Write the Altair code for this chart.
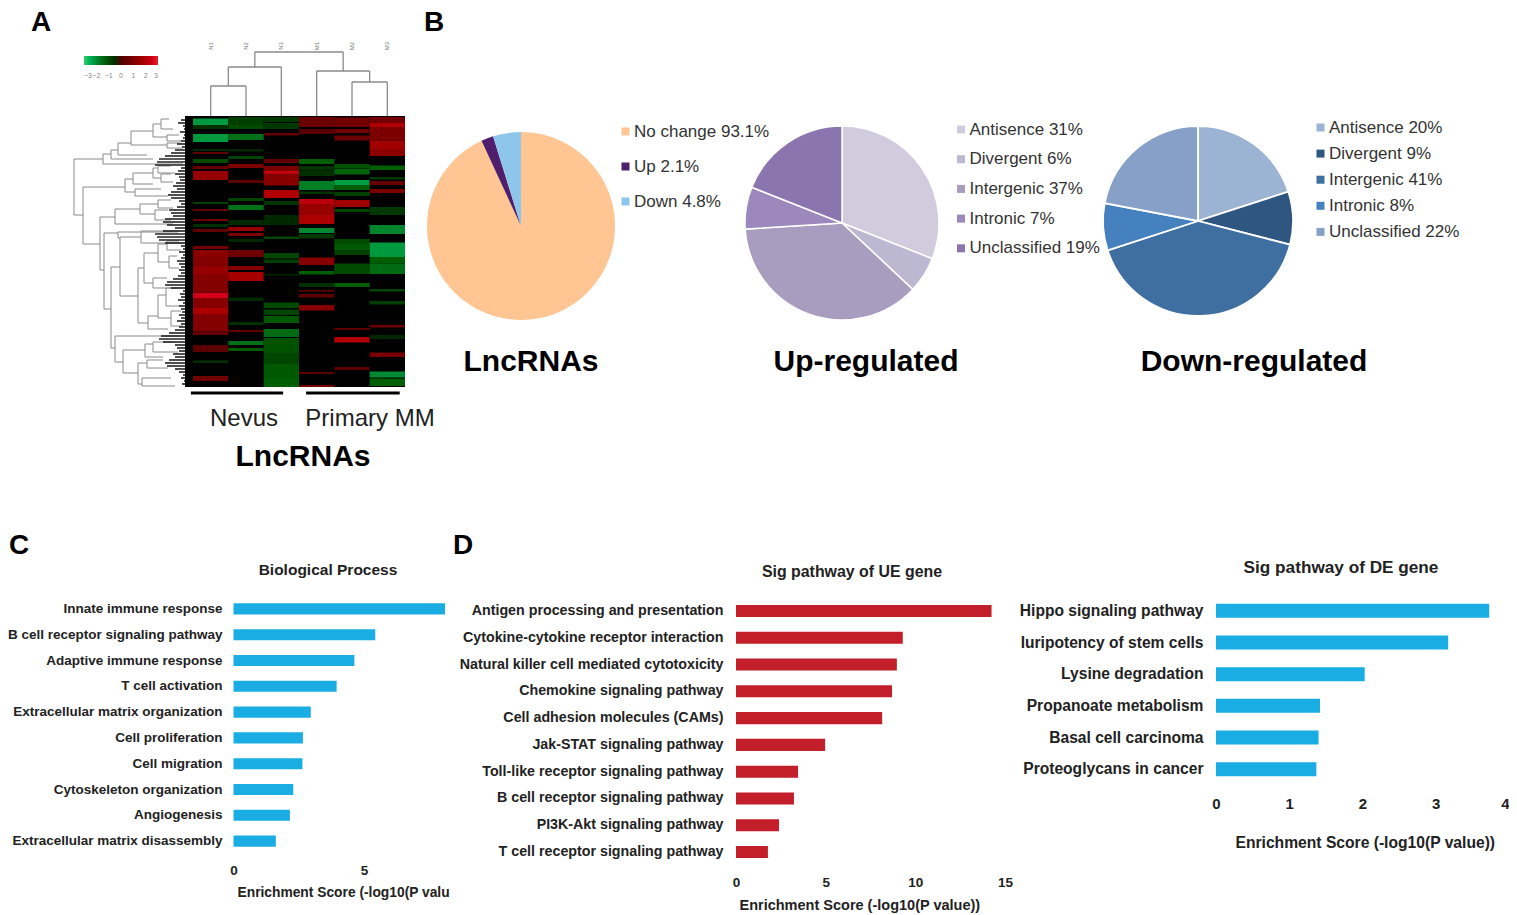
import altair as alt
import pandas as pd

FONT = "Liberation Sans"
INK = "#222222"

# ---------- Panel A: heat map, segments per sample (row start, row end, value)
col1 = [(2.5,9,-2.2),(9,13,-.5),(18,26,-2.2),(33,35,-.4),(36,38,.4),(43,47,-1),(50,53,.5),(55,64,1.5),(86,88,-.8),(93,95,.5),(103,105,.8),(108,111,-.5),(113,116,.4),(130,133,.8),
        (134,141,1.3),(141,151,1.1),(151,158,1.5),(158,165,1.2),(165,176,1.1),(176.5,182,2.6),(182,192,1.2),(192,198,1.9),(198,215.5,1.1),(215.5,219,.5),(229,236,.3),(244.5,247,-.5),(260,265,.7)]
col2 = [(1,9,-.8),(9,13,-1),(18,24,-1.6),(33,35.5,-.3),(40,43,-.9),(48,52,1),(64,67,.3),(82,85,-.9),(89,94,-1.6),(104,109,-.4),(111,115,1.5),(117,120,1),(123,126,-.3),
        (134,141,.7),(150,154,1.2),(156,165,1.8),(181.5,185,-.4),(206,209,-.5),(214,216,.4),(225,229,-1.6),(232,235,-1.3)]
col3 = [(1,6,-.7),(7,13,-.7),(17,19.5,.5),(43,47,.4),(50,54.5,1),(54.5,58.5,2.3),(58.5,69.5,1.2),(74,82,2),(85,89,-.6),(99,109,-.3),(120.5,123,-.9),
        (137,142.5,-.9),(143.5,147,-.8),(158,159.5,-.3),(186.5,192,-1),(193.5,199,-.9),(200,207,-1.2),(213,221,-1.5),(222,237,-1.1),(237,248,-.9),(248,262,-1.2),(262,271,-1.3)]
col4 = [(1,11,.6),(13,18,.2),(43,48,-1.3),(50,54.5,-.6),(55,60,-.5),(65,74,-1.8),(75.5,78,-.6),(83,88,2.2),(88,99,1.5),(99,108,1.9),(112,117,-2),(118,122.5,-.7),
        (141.5,149,1.2),(155,158.5,-1.3),(167,171,-.5),(174,175.5,.6),(178,181.5,.4),(189,194.5,1.2),(256,258,.3),(269,271,.8)]
col5 = [(1.5,11,.8),(13,17,.8),(19.5,24.5,.6),(48,52,-1.1),(52.5,58.5,-1.4),(64,69.5,-2.3),(69.5,74,-1.3),(76,80,-.8),(84,91,1.7),(93,96,-.9),(123,128,-1),(128,134,-1.2),
        (134,139,-.8),(147.5,158,-1),(167,171,-1.3),(212,214,.4),(221,226.5,2),(251,254,.3)]
col6 = [(1,7,.8),(7,11,2),(11,24.5,1),(24.5,33,1.7),(33,40,1.3),(49.5,54,-1.3),(61,63.5,-.7),(65,69,.5),(73,77,1),(91,99,-.7),(109,118,-1.9),(126.5,134,-2.2),
        (134,141,-2.2),(141,147.5,-1.3),(147.5,158,-1.5),(173,175.5,-.9),(185,188.5,-.8),(209,211.5,.7),(219,223,-.3),(236.5,241,.9),(255.5,261.5,-2),(262.5,270,-1.3)]
heat_columns = [col1, col2, col3, col4, col5, col6]
heat_ticks = [-3, -2, -1, 0, 1, 2, 3]
sample_names = ["N1", "N2", "N3", "M1", "M2", "M3"]

# top dendrogram: (left leaf, right leaf, height, left child height, right child height)
top_tree = [(0.5,1.5,30,0,0),(1,2.5,49,30,0),(4.5,5.5,34,0,0),(3.5,5,45,0,34),(1.75,4.25,64,49,45)]

# left dendrogram: (depth, row top, row bottom, depth top child, depth bottom child)
left_tree = [(119,43,99,90,110),(90,38,48,82,10),(82,34,43,75,40),(75,27,39,62,46),(62,15,29,40,26),(40,8,21,32,26),(32,3,13,24,20),
             (26,19,25,14,12),(26,27,32,12,10),(110,71,128,68,93),(68,63,76,60,58),(60,57,68,40,40),(40,52,62,36,32),(35,50,57,22,18),
             (32,58,66,22,20),(58,73,80,32,25),(93,101,154,78,89),(78,93,108,53,20),(53,88,98,35,38),(38,94,104,25,22),(35,84,92,22,20),
             (89,117,193,75,82),(75,116,122,15,73),(82,151,232,73,78),(73,121,180,52,55),(52,115,127,12,8),(55,152,207,49,45),(49,137,167,35,40),
             (35,128,146,26,24),(26,125,134,14,12),(24,140,152,16,14),(40,162,172,26,12),(45,200,213,35,25),(35,179,202,27,22),(27,172,190,18,14),
             (22,195,210,12,10),(78,220,246,12,70),(70,234,257,48,55),(48,228,241,40,30),(40,226,236,20,15),(55,247,268,46,51),(46,244,252,30,25),(51,262,270,22,18)]
# depth of the dense leaf fringe, one value per three rows
fringe = [8,12,15,10,9,13,9,10,12,16,11,18,22,28,34,36,38,12,15,18,14,13,17,20,16,22,25,22,14,12,16,24,22,20,28,30,26,18,30,38,36,34,28,12,10,
          14,10,12,16,14,12,14,12,15,20,26,28,22,10,13,12,15,10,14,12,11,14,12,16,12,14,18,24,32,34,30,18,16,14,20,18,24,28,26,18,14,10,12,9,11]

group_bars = [(-0.06, 2.55), (3.2, 5.85)]

# ---------- Panel B: pies
pie1_names = ["No change 93.1%", "Up 2.1%", "Down 4.8%"]
pie1_values = [93.1, 2.1, 4.8]
pie1_colors = ["#FFC593", "#4F1F6E", "#8DC5EB"]
pie2_names = ["Antisence 31%", "Divergent 6%", "Intergenic 37%", "Intronic 7%", "Unclassified 19%"]
pie2_values = [31, 6, 37, 7, 19]
pie2_colors = ["#D0CCDE", "#BDB8D2", "#A89CBF", "#9C88BC", "#8B75AF"]
pie3_names = ["Antisence 20%", "Divergent 9%", "Intergenic 41%", "Intronic 8%", "Unclassified 22%"]
pie3_values = [20, 9, 41, 8, 22]
pie3_colors = ["#9DB3D4", "#2F5680", "#3F6EA0", "#4681BF", "#87A0C8"]

# ---------- Panels C, D: bars
bp_names = ["Innate immune response", "B cell receptor signaling pathway", "Adaptive immune response", "T cell activation",
            "Extracellular matrix organization", "Cell proliferation", "Cell migration", "Cytoskeleton organization",
            "Angiogenesis", "Extracellular matrix disassembly"]
bp_values = [8.1, 5.43, 4.63, 3.95, 2.96, 2.66, 2.64, 2.29, 2.16, 1.62]
ue_names = ["Antigen processing and presentation", "Cytokine-cytokine receptor interaction", "Natural killer cell mediated cytotoxicity",
            "Chemokine signaling pathway", "Cell adhesion molecules (CAMs)", "Jak-STAT signaling pathway", "Toll-like receptor signaling pathway",
            "B cell receptor signaling pathway", "PI3K-Akt signaling pathway", "T cell receptor signaling pathway"]
ue_values = [14.25, 9.3, 8.97, 8.7, 8.15, 4.97, 3.46, 3.23, 2.4, 1.78]
de_names = ["Hippo signaling pathway", "luripotency of stem cells", "Lysine degradation", "Propanoate metabolism", "Basal cell carcinoma", "Proteoglycans in cancer"]
de_values = [3.73, 3.17, 2.03, 1.42, 1.40, 1.37]

W, H = 1501, 906


def px(v):
    return v - 8


def note(text, x, y, size, weight="normal", color="#111111", align="center", angle=0):
    return alt.Chart(alt.Data(values=[{"t": text}])).mark_text(
        font=FONT, fontSize=size, fontWeight=weight, color=color, align=align, baseline="middle", angle=angle
    ).encode(text="t:N", x=alt.value(px(x)), y=alt.value(px(y)))


col_x = lambda f, f2=None: alt.X(f, scale=alt.Scale(domain=[0, 6], range=[px(193), px(405)], nice=False), axis=None)
row_y = lambda f: alt.Y(f, scale=alt.Scale(domain=[0, 271], range=[px(116), px(387)], nice=False), axis=None)
depth_x = lambda f: alt.X(f, scale=alt.Scale(domain=[0, 120], range=[px(193), px(73)], nice=False), axis=None)
height_y = lambda f: alt.Y(f, scale=alt.Scale(domain=[0, 64], range=[px(116), px(52)], nice=False), axis=None)

heat_rows = [{"c0": i, "c1": i + 1, "r0": a, "r1": b, "v": v}
             for i, segs in enumerate(heat_columns) for a, b, v in segs]

heat_bg = alt.Chart(alt.Data(values=[{"c0": 0, "c1": 6, "r0": 0, "r1": 271}])).mark_rect(color="#000000").encode(
    x=col_x("c0:Q"), x2="c1:Q", y=row_y("r0:Q"), y2="r1:Q")
heat = alt.Chart(alt.Data(values=heat_rows)).mark_rect().encode(
    x=col_x("c0:Q"), x2="c1:Q", y=row_y("r0:Q"), y2="r1:Q",
    color=alt.Color("v:Q", scale=alt.Scale(domain=[-3, 0, 3], range=["#30D070", "#000000", "#E82028"]),
                    legend=alt.Legend(orient="none", legendX=px(84), legendY=px(56), direction="horizontal", title=None,
                                      gradientLength=74, gradientThickness=9, values=heat_ticks, labelFontSize=7,
                                      labelColor="#888888", labelFont=FONT, tickCount=7, labelOffset=7)))

top_v, top_h = [], []
for a, b, h, ha, hb in top_tree:
    top_h.append({"a": a, "b": b, "h": h})
    top_v.append({"x": a, "h0": ha, "h1": h})
    top_v.append({"x": b, "h0": hb, "h1": h})
top_lines = alt.layer(
    alt.Chart(alt.Data(values=top_h)).mark_rule(color="#8a8a8a", strokeWidth=1.3).encode(
        x=col_x("a:Q"), x2="b:Q", y=height_y("h:Q")),
    alt.Chart(alt.Data(values=top_v)).mark_rule(color="#8a8a8a", strokeWidth=1.3).encode(
        x=col_x("x:Q"), y=height_y("h0:Q"), y2="h1:Q"),
)

left_v, left_h = [], []
for d, r0, r1, dt, db in left_tree:
    left_v.append({"d": d, "r0": r0, "r1": r1})
    left_h.append({"r": r0, "d0": d, "d1": dt})
    left_h.append({"r": r1, "d0": d, "d1": db})
left_lines = alt.layer(
    alt.Chart(alt.Data(values=left_v)).mark_rule(color="#8a8a8a", strokeWidth=1).encode(
        x=depth_x("d:Q"), y=row_y("r0:Q"), y2="r1:Q"),
    alt.Chart(alt.Data(values=left_h)).mark_rule(color="#8a8a8a", strokeWidth=1).encode(
        y=row_y("r:Q"), x=depth_x("d0:Q"), x2="d1:Q"),
)
fringe_rows = [{"r": 3 * i + 1, "d": d, "z": 0} for i, d in enumerate(fringe)]
fringe_lines = alt.Chart(alt.Data(values=fringe_rows)).mark_rule(color="#222222", strokeWidth=1.6).encode(
    y=row_y("r:Q"), x=depth_x("d:Q"), x2="z:Q")
fringe_band = alt.Chart(alt.Data(values=[{"d0": 0, "d1": 8, "r0": 0, "r1": 271}])).mark_rect(color="#000000").encode(
    x=depth_x("d0:Q"), x2="d1:Q", y=row_y("r0:Q"), y2="r1:Q")

group_lines = alt.Chart(alt.Data(values=[{"a": a, "b": b} for a, b in group_bars])).mark_rule(color="#000000", strokeWidth=3).encode(
    x=col_x("a:Q"), x2="b:Q", y=alt.value(px(393)))
sample_labels = alt.Chart(alt.Data(values=[{"x": i + 0.5, "t": t} for i, t in enumerate(sample_names)])).mark_text(
    font=FONT, fontSize=6, color="#777777", angle=270).encode(x=col_x("x:Q"), text="t:N", y=alt.value(px(46)))


def pie(names, values, colors, cx, cy, r, stroke, lx, ly, fsize, rowpad, sym):
    data = [{"n": n, "v": v, "i": i} for i, (n, v) in enumerate(zip(names, values))]
    return alt.Chart(alt.Data(values=data)).mark_arc(outerRadius=r, stroke="white", strokeWidth=stroke).encode(
        theta=alt.Theta("v:Q", stack=True),
        order=alt.Order("i:Q"),
        x=alt.value(px(cx)), y=alt.value(px(cy)),
        color=alt.Color("n:N", sort=None, scale=alt.Scale(domain=names, range=colors),
                        legend=alt.Legend(orient="none", legendX=px(lx), legendY=px(ly), title=None, symbolType="square",
                                          symbolSize=sym, labelFont=FONT, labelFontSize=fsize, labelColor="#333333",
                                          rowPadding=rowpad, labelOffset=0, labelLimit=300, symbolStrokeWidth=0,
                                          padding=0)),
    )


def bars(names, values, color, domain, x0, x1, y0, y1, inner, ticks, lsize, tsize, tick_y, label_right,
         title, title_size, title_x, title_y, title_align="center", last_right=None):
    data = [{"n": n, "v": v} for n, v in zip(names, values)]
    align = "center"
    if last_right is not None:
        align = {"condition": {"test": f"datum.value === {last_right}", "value": "right"}, "value": "center"}
    return alt.Chart(alt.Data(values=data)).mark_bar(color=color).encode(
        x=alt.X("v:Q", scale=alt.Scale(domain=[0, domain], range=[px(x0), px(x1)], nice=False),
                axis=alt.Axis(orient="bottom", offset=-(H - px(tick_y)), values=ticks, format="d", ticks=False, domain=False, grid=False,
                              labelFont=FONT, labelFontWeight="bold", labelFontSize=tsize, labelColor=INK, labelPadding=0,
                              labelBaseline="middle", labelAlign=align, labelFlush=False, labelOverlap=False, title=title, titleFont=FONT, titleFontWeight="bold",
                              titleFontSize=title_size, titleColor=INK, titleX=px(title_x), titleY=title_y - tick_y,
                              titleAlign=title_align, titleBaseline="middle", titleAnchor="start")),
        y=alt.Y("n:N", sort=None, scale=alt.Scale(domain=names, range=[px(y0), px(y1)], paddingInner=inner, paddingOuter=inner / 2),
                axis=alt.Axis(orient="left", offset=-(px(label_right)), title=None, ticks=False, domain=False, grid=False,
                              labelFont=FONT, labelFontWeight="bold", labelFontSize=lsize, labelColor=INK, labelPadding=0, labelLimit=500,
                              labelOverlap=False)),
    )


layers = [
    heat_bg, heat, top_lines, left_lines, fringe_lines, fringe_band, group_lines, sample_labels,
    note("A", 41, 23, 28, "bold", "#000000"), note("B", 434, 23, 28, "bold", "#000000"),
    note("C", 19, 546, 28, "bold", "#000000"), note("D", 463, 546, 28, "bold", "#000000"),
    note("Nevus", 244, 419, 24, color="#222222"), note("Primary MM", 370, 419, 24, color="#222222"),
    note("LncRNAs", 303, 457, 30, "bold", "#000000"),
    pie(pie1_names, pie1_values, pie1_colors, 521, 226, 94, 0, 617, 123, 17, 17, 64),
    pie(pie2_names, pie2_values, pie2_colors, 842, 223, 97, 1.5, 952.5, 121, 17, 11.7, 64),
    pie(pie3_names, pie3_values, pie3_colors, 1198, 221, 95, 1.8, 1312, 119, 17, 8.1, 64),
    note("LncRNAs", 531, 362, 30, "bold", "#000000"),
    note("Up-regulated", 866, 362, 30, "bold", "#000000"),
    note("Down-regulated", 1254, 362, 30, "bold", "#000000"),
    bars(bp_names, bp_values, "#19ADE4", 8.1, 233.5, 445, 596, 854, 0.57, [0, 5], 13.5, 13.5, 870, 222,
         "Enrichment Score (-log10(P valu", 13.8, 237, 892, "left"),
    note("Biological Process", 328, 570, 15.5, "bold", INK),
    bars(ue_names, ue_values, "#C21F2A", 15, 736, 1005, 597.6, 865.4, 0.55, [0, 5, 10, 15], 14.25, 13.5, 882, 723,
         "Enrichment Score (-log10(P value))", 14.5, 739, 905, "left"),
    note("Sig pathway of UE gene", 852, 572, 15.9, "bold", INK),
    bars(de_names, de_values, "#19ADE4", 4, 1216, 1509, 595, 785, 0.56, [0, 1, 2, 3, 4], 15.6, 15, 803, 1203,
         "Enrichment Score (-log10(P value))", 15.65, 1235, 842, "left", last_right=4),
    note("Sig pathway of DE gene", 1341, 568, 17.2, "bold", INK),
]

chart = alt.layer(*layers).resolve_scale(
    x="independent", y="independent", color="independent", theta="independent"
).resolve_axis(x="independent", y="independent").resolve_legend(color="independent").properties(
    width=W, height=H, padding=0,
    autosize=alt.AutoSizeParams(type="none", contains="padding"),
    background="white",
).configure_view(stroke=None)

chart.save("out.html", embed_options={"renderer": "svg", "actions": False})
